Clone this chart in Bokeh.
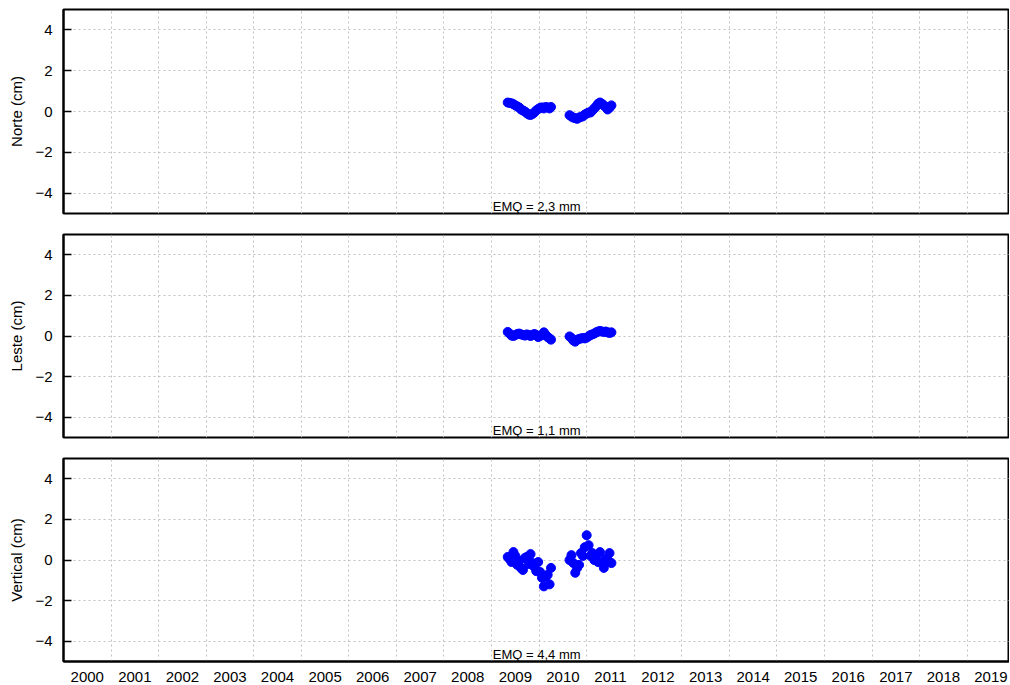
from bokeh.plotting import figure
from bokeh.models import FixedTicker, Range1d, Label, CustomJSTickFormatter
from bokeh.layouts import column
from bokeh.embed import file_html
from bokeh.resources import INLINE

# ---------------- data ----------------
years = list(range(2000, 2020))

t = [2009.34, 2009.38, 2009.42, 2009.46, 2009.50, 2009.54, 2009.58, 2009.62,
     2009.66, 2009.70, 2009.74, 2009.78, 2009.82, 2009.86, 2009.90, 2009.94,
     2009.98, 2010.02, 2010.06, 2010.10, 2010.14, 2010.18, 2010.22, 2010.25,
     2010.64, 2010.68, 2010.72, 2010.76, 2010.80, 2010.84, 2010.88, 2010.92,
     2010.96, 2011.00, 2011.04, 2011.08, 2011.12, 2011.16, 2011.20, 2011.24,
     2011.28, 2011.32, 2011.36, 2011.40, 2011.44, 2011.48, 2011.52]

norte = [0.44, 0.42, 0.40, 0.36, 0.30, 0.25, 0.20, 0.10,
         0.05, 0.00, -0.08, -0.15, -0.17, -0.12, -0.05, 0.05,
         0.12, 0.18, 0.20, 0.15, 0.22, 0.20, 0.15, 0.22,
         -0.18, -0.25, -0.30, -0.33, -0.36, -0.30, -0.26, -0.24,
         -0.15, -0.10, -0.05, -0.05, 0.05, 0.15, 0.25, 0.38,
         0.44, 0.38, 0.30, 0.22, 0.10, 0.18, 0.30]

leste = [0.20, 0.12, 0.02, 0.00, 0.05, 0.10, 0.12, 0.08,
         0.05, 0.02, 0.08, 0.05, 0.00, 0.05, 0.10, 0.05,
         -0.05, 0.00, 0.05, 0.18, 0.05, -0.05, -0.12, -0.18,
         -0.02, -0.10, -0.22, -0.28, -0.18, -0.15, -0.12, -0.10,
         -0.12, -0.08, -0.02, 0.05, 0.08, 0.12, 0.18, 0.22,
         0.25, 0.22, 0.20, 0.22, 0.18, 0.15, 0.18]

vertical = [0.15, 0.05, -0.10, 0.39, 0.20, -0.24, -0.05, -0.40,
            -0.49, 0.10, 0.15, -0.20, 0.29, -0.15, -0.34, -0.55,
            -0.10, -0.59, -0.88, -1.30, -0.83, -0.73, -1.20, -0.39,
            0.00, 0.24, -0.15, -0.63, -0.39, -0.24, 0.34, 0.20,
            0.63, 1.22, 0.73, 0.20, 0.34, 0.00, 0.24, -0.10,
            0.39, -0.10, -0.39, 0.05, 0.00, 0.34, -0.15]

panels = [("Norte (cm)", norte, "EMQ = 2,3 mm"),
          ("Leste (cm)", leste, "EMQ = 1,1 mm"),
          ("Vertical (cm)", vertical, "EMQ = 4,4 mm")]

y_ticks = [-4, -2, 0, 2, 4]
FONT = "Liberation Sans"

x_range = Range1d(2000, 2019.89)

figs = []
for i, (ylabel, vals, emq) in enumerate(panels):
    last = i == len(panels) - 1
    p = figure(frame_width=946, frame_height=204 if i == 0 else 203,
               x_range=x_range, y_range=Range1d(-5, 5),
               output_backend="svg", toolbar_location=None,
               min_border_left=63, min_border_right=0,
               min_border_top=9 if i == 0 else 2,
               min_border_bottom=0 if last else 19)
    p.outline_line_color = "black"
    p.outline_line_width = 2
    p.outline_line_alpha = 1.0

    # grids
    p.xgrid.ticker = FixedTicker(ticks=years[1:])
    p.ygrid.ticker = FixedTicker(ticks=y_ticks)
    for g in (p.xgrid, p.ygrid):
        g.grid_line_color = "#c0c0c0"
        g.grid_line_dash = "2 3"
        g.grid_line_width = 1

    # y axis
    ya = p.yaxis[0]
    ya.ticker = FixedTicker(ticks=y_ticks)
    ya.formatter = CustomJSTickFormatter(
        code="return tick < 0 ? '\u2212' + Math.abs(tick) : String(tick)")
    ya.axis_label = ylabel
    ya.axis_label_text_font = FONT
    ya.axis_label_text_font_size = "15px"
    ya.axis_label_text_font_style = "normal"
    ya.axis_label_text_color = "black"
    ya.axis_label_standoff = 7
    ya.major_label_text_font = FONT
    ya.major_label_text_font_size = "15px"
    ya.major_label_text_color = "black"
    ya.major_label_standoff = 11
    ya.major_tick_in = 8
    ya.major_tick_out = 0
    ya.minor_tick_in = 0
    ya.minor_tick_out = 0
    ya.axis_line_color = "black"
    ya.axis_line_width = 2
    ya.major_tick_line_color = "black"
    ya.major_tick_line_width = 1.5

    # x axis
    xa = p.xaxis[0]
    if last:
        xa.ticker = FixedTicker(ticks=[y + 0.5 for y in years])
        xa.formatter = CustomJSTickFormatter(code="return String(Math.floor(tick))")
        xa.major_tick_in = 0
        xa.major_tick_out = 0
        xa.minor_tick_in = 0
        xa.minor_tick_out = 0
        xa.major_label_text_font = FONT
        xa.major_label_text_font_size = "15px"
        xa.major_label_text_color = "black"
        xa.major_label_standoff = 10
        xa.axis_line_color = "black"
        xa.axis_line_width = 2
    else:
        xa.visible = False

    p.scatter(t, vals, size=9, color="#0000ff", line_color="#0000ff")

    p.add_layout(Label(x=2009.95, y=-5, text=emq, text_align="center",
                       text_baseline="bottom", y_offset=0,
                       text_font=FONT, text_font_size="13px",
                       text_color="black"))
    figs.append(p)

layout = column(*figs, spacing=0)
open("out.html", "w").write(file_html(layout, INLINE))
